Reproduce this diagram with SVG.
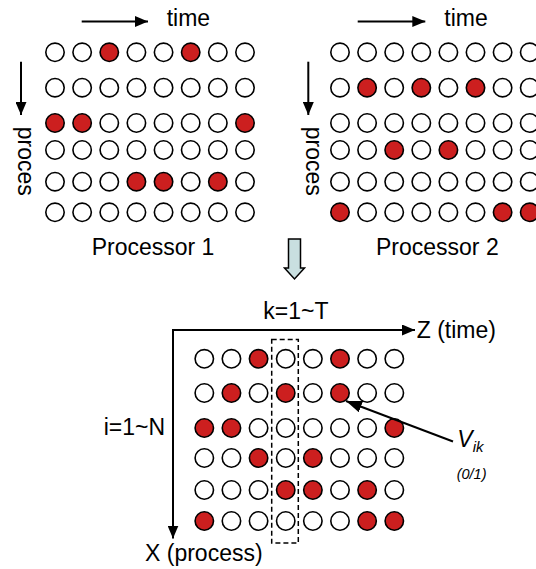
<svg xmlns="http://www.w3.org/2000/svg" width="536" height="569" viewBox="0 0 536 569">
  <style>
    .off { fill: #ffffff; stroke: #000000; stroke-width: 1.6; }
    .on { fill: #cc1f1f; stroke: #000000; stroke-width: 1.6; }
    .lbl { font-family: "Liberation Sans", Arial, sans-serif; font-size: 23px; fill: #000000; }
    .arrow { stroke: #000000; stroke-width: 2; fill: none; marker-end: url(#head); }
    .pointer { stroke: #000000; stroke-width: 2; fill: none; marker-end: url(#bighead); }
  </style>
  <defs>
    <marker id="head" viewBox="0 0 13 11" refX="13" refY="5.5" markerWidth="13" markerHeight="11" markerUnits="userSpaceOnUse" orient="auto">
      <path d="M0,0 L13,5.5 L0,11 z" fill="#000000"/>
    </marker>
    <marker id="bighead" viewBox="0 0 16 12" refX="16" refY="6" markerWidth="16" markerHeight="12" markerUnits="userSpaceOnUse" orient="auto">
      <path d="M0,0 L16,6 L0,12 z" fill="#000000"/>
    </marker>
  </defs>

  <!-- processor 1 schedule -->
  <g id="processor1">
    <g transform="translate(55,52.3)">
      <circle class="off" cx="0" cy="0" r="9.2"/><circle class="off" cx="27.14" cy="0" r="9.2"/><circle class="on" cx="54.28" cy="0" r="9.2"/><circle class="off" cx="81.42" cy="0" r="9.2"/><circle class="off" cx="108.56" cy="0" r="9.2"/><circle class="on" cx="135.7" cy="0" r="9.2"/><circle class="off" cx="162.84" cy="0" r="9.2"/><circle class="off" cx="190" cy="0" r="9.2"/>
    </g>
    <g transform="translate(55,87.7)">
      <circle class="off" cx="0" cy="0" r="9.2"/><circle class="off" cx="27.14" cy="0" r="9.2"/><circle class="off" cx="54.28" cy="0" r="9.2"/><circle class="off" cx="81.42" cy="0" r="9.2"/><circle class="off" cx="108.56" cy="0" r="9.2"/><circle class="off" cx="135.7" cy="0" r="9.2"/><circle class="off" cx="162.84" cy="0" r="9.2"/><circle class="off" cx="190" cy="0" r="9.2"/>
    </g>
    <g transform="translate(55,123)">
      <circle class="on" cx="0" cy="0" r="9.2"/><circle class="on" cx="27.14" cy="0" r="9.2"/><circle class="off" cx="54.28" cy="0" r="9.2"/><circle class="off" cx="81.42" cy="0" r="9.2"/><circle class="off" cx="108.56" cy="0" r="9.2"/><circle class="off" cx="135.7" cy="0" r="9.2"/><circle class="off" cx="162.84" cy="0" r="9.2"/><circle class="on" cx="190" cy="0" r="9.2"/>
    </g>
    <g transform="translate(55,150)">
      <circle class="off" cx="0" cy="0" r="9.2"/><circle class="off" cx="27.14" cy="0" r="9.2"/><circle class="off" cx="54.28" cy="0" r="9.2"/><circle class="off" cx="81.42" cy="0" r="9.2"/><circle class="off" cx="108.56" cy="0" r="9.2"/><circle class="off" cx="135.7" cy="0" r="9.2"/><circle class="off" cx="162.84" cy="0" r="9.2"/><circle class="off" cx="190" cy="0" r="9.2"/>
    </g>
    <g transform="translate(55,181.7)">
      <circle class="off" cx="0" cy="0" r="9.2"/><circle class="off" cx="27.14" cy="0" r="9.2"/><circle class="off" cx="54.28" cy="0" r="9.2"/><circle class="on" cx="81.42" cy="0" r="9.2"/><circle class="on" cx="108.56" cy="0" r="9.2"/><circle class="off" cx="135.7" cy="0" r="9.2"/><circle class="on" cx="162.84" cy="0" r="9.2"/><circle class="off" cx="190" cy="0" r="9.2"/>
    </g>
    <g transform="translate(55,212.3)">
      <circle class="off" cx="0" cy="0" r="9.2"/><circle class="off" cx="27.14" cy="0" r="9.2"/><circle class="off" cx="54.28" cy="0" r="9.2"/><circle class="off" cx="81.42" cy="0" r="9.2"/><circle class="off" cx="108.56" cy="0" r="9.2"/><circle class="off" cx="135.7" cy="0" r="9.2"/><circle class="off" cx="162.84" cy="0" r="9.2"/><circle class="off" cx="190" cy="0" r="9.2"/>
    </g>
    <text class="lbl" x="166.7" y="26">time</text>
    <text class="lbl" transform="translate(18,126.7) rotate(90)">proces</text>
    <text class="lbl" x="91.7" y="254.5">Processor 1</text>
  </g>

  <!-- processor 2 schedule -->
  <g id="processor2">
    <g transform="translate(340,52.3)">
      <circle class="off" cx="0" cy="0" r="9.2"/><circle class="off" cx="27.1" cy="0" r="9.2"/><circle class="off" cx="54.2" cy="0" r="9.2"/><circle class="off" cx="81.3" cy="0" r="9.2"/><circle class="off" cx="108.4" cy="0" r="9.2"/><circle class="off" cx="135.5" cy="0" r="9.2"/><circle class="off" cx="162.6" cy="0" r="9.2"/><circle class="off" cx="189.7" cy="0" r="9.2"/>
    </g>
    <g transform="translate(340,87.7)">
      <circle class="off" cx="0" cy="0" r="9.2"/><circle class="on" cx="27.1" cy="0" r="9.2"/><circle class="off" cx="54.2" cy="0" r="9.2"/><circle class="on" cx="81.3" cy="0" r="9.2"/><circle class="off" cx="108.4" cy="0" r="9.2"/><circle class="on" cx="135.5" cy="0" r="9.2"/><circle class="off" cx="162.6" cy="0" r="9.2"/><circle class="off" cx="189.7" cy="0" r="9.2"/>
    </g>
    <g transform="translate(340,123)">
      <circle class="off" cx="0" cy="0" r="9.2"/><circle class="off" cx="27.1" cy="0" r="9.2"/><circle class="off" cx="54.2" cy="0" r="9.2"/><circle class="off" cx="81.3" cy="0" r="9.2"/><circle class="off" cx="108.4" cy="0" r="9.2"/><circle class="off" cx="135.5" cy="0" r="9.2"/><circle class="off" cx="162.6" cy="0" r="9.2"/><circle class="off" cx="189.7" cy="0" r="9.2"/>
    </g>
    <g transform="translate(340,150)">
      <circle class="off" cx="0" cy="0" r="9.2"/><circle class="off" cx="27.1" cy="0" r="9.2"/><circle class="on" cx="54.2" cy="0" r="9.2"/><circle class="off" cx="81.3" cy="0" r="9.2"/><circle class="on" cx="108.4" cy="0" r="9.2"/><circle class="off" cx="135.5" cy="0" r="9.2"/><circle class="off" cx="162.6" cy="0" r="9.2"/><circle class="off" cx="189.7" cy="0" r="9.2"/>
    </g>
    <g transform="translate(340,181.7)">
      <circle class="off" cx="0" cy="0" r="9.2"/><circle class="off" cx="27.1" cy="0" r="9.2"/><circle class="off" cx="54.2" cy="0" r="9.2"/><circle class="off" cx="81.3" cy="0" r="9.2"/><circle class="off" cx="108.4" cy="0" r="9.2"/><circle class="off" cx="135.5" cy="0" r="9.2"/><circle class="off" cx="162.6" cy="0" r="9.2"/><circle class="off" cx="189.7" cy="0" r="9.2"/>
    </g>
    <g transform="translate(340,212.3)">
      <circle class="on" cx="0" cy="0" r="9.2"/><circle class="off" cx="27.1" cy="0" r="9.2"/><circle class="off" cx="54.2" cy="0" r="9.2"/><circle class="off" cx="81.3" cy="0" r="9.2"/><circle class="off" cx="108.4" cy="0" r="9.2"/><circle class="off" cx="135.5" cy="0" r="9.2"/><circle class="on" cx="162.6" cy="0" r="9.2"/><circle class="on" cx="189.7" cy="0" r="9.2"/>
    </g>
    <text class="lbl" x="444.3" y="26">time</text>
    <text class="lbl" transform="translate(306,126.7) rotate(90)">proces</text>
    <text class="lbl" x="376" y="254.5">Processor 2</text>
  </g>

  <!-- merge step -->
  <g id="merge-arrow">
    <path d="M288.5,239 H300.5 V268 H304.5 L294.5,279 L284.5,268 H288.5 Z" fill="#c9dfe0" stroke="#000000" stroke-width="1.5" stroke-linejoin="miter"/>
  </g>

  <!-- combined schedule V(i,k) -->
  <g id="combined">
    <g transform="translate(204.3,358.8)">
      <circle class="off" cx="0" cy="0" r="9.2"/><circle class="off" cx="27.14" cy="0" r="9.2"/><circle class="on" cx="54.28" cy="0" r="9.2"/><circle class="off" cx="81.42" cy="0" r="9.2"/><circle class="off" cx="108.56" cy="0" r="9.2"/><circle class="on" cx="135.7" cy="0" r="9.2"/><circle class="off" cx="162.84" cy="0" r="9.2"/><circle class="off" cx="190" cy="0" r="9.2"/>
    </g>
    <g transform="translate(204.3,393)">
      <circle class="off" cx="0" cy="0" r="9.2"/><circle class="on" cx="27.14" cy="0" r="9.2"/><circle class="off" cx="54.28" cy="0" r="9.2"/><circle class="on" cx="81.42" cy="0" r="9.2"/><circle class="off" cx="108.56" cy="0" r="9.2"/><circle class="on" cx="135.7" cy="0" r="9.2"/><circle class="off" cx="162.84" cy="0" r="9.2"/><circle class="off" cx="190" cy="0" r="9.2"/>
    </g>
    <g transform="translate(204.3,428)">
      <circle class="on" cx="0" cy="0" r="9.2"/><circle class="on" cx="27.14" cy="0" r="9.2"/><circle class="off" cx="54.28" cy="0" r="9.2"/><circle class="off" cx="81.42" cy="0" r="9.2"/><circle class="off" cx="108.56" cy="0" r="9.2"/><circle class="off" cx="135.7" cy="0" r="9.2"/><circle class="off" cx="162.84" cy="0" r="9.2"/><circle class="on" cx="190" cy="0" r="9.2"/>
    </g>
    <g transform="translate(204.3,458)">
      <circle class="off" cx="0" cy="0" r="9.2"/><circle class="off" cx="27.14" cy="0" r="9.2"/><circle class="on" cx="54.28" cy="0" r="9.2"/><circle class="off" cx="81.42" cy="0" r="9.2"/><circle class="on" cx="108.56" cy="0" r="9.2"/><circle class="off" cx="135.7" cy="0" r="9.2"/><circle class="off" cx="162.84" cy="0" r="9.2"/><circle class="off" cx="190" cy="0" r="9.2"/>
    </g>
    <g transform="translate(204.3,490)">
      <circle class="off" cx="0" cy="0" r="9.2"/><circle class="off" cx="27.14" cy="0" r="9.2"/><circle class="off" cx="54.28" cy="0" r="9.2"/><circle class="on" cx="81.42" cy="0" r="9.2"/><circle class="on" cx="108.56" cy="0" r="9.2"/><circle class="off" cx="135.7" cy="0" r="9.2"/><circle class="on" cx="162.84" cy="0" r="9.2"/><circle class="off" cx="190" cy="0" r="9.2"/>
    </g>
    <g transform="translate(204.3,521)">
      <circle class="on" cx="0" cy="0" r="9.2"/><circle class="off" cx="27.14" cy="0" r="9.2"/><circle class="off" cx="54.28" cy="0" r="9.2"/><circle class="off" cx="81.42" cy="0" r="9.2"/><circle class="off" cx="108.56" cy="0" r="9.2"/><circle class="off" cx="135.7" cy="0" r="9.2"/><circle class="on" cx="162.84" cy="0" r="9.2"/><circle class="on" cx="190" cy="0" r="9.2"/>
    </g>
    <!-- one time slot column -->
    <rect x="271.7" y="339.5" width="26.6" height="203.5" fill="none" stroke="#000000" stroke-width="1.5" stroke-dasharray="5 3"/>
    <text class="lbl" x="263.3" y="319">k=1~T</text>
    <text class="lbl" x="416.7" y="338">Z (time)</text>
    <text class="lbl" x="165" y="435" text-anchor="end">i=1~N</text>
    <text class="lbl" x="145" y="561">X (process)</text>
  </g>

  <g id="vik-label">
    <text class="lbl" x="457.3" y="446.5" font-style="italic">V<tspan font-size="15" dy="5">ik</tspan></text>
    <text class="lbl" x="456.7" y="478.5" font-style="italic" style="font-size:14.5px">(0/1)</text>
  </g>

  <!-- connectors -->
  <g id="connectors">
    <line class="arrow" x1="81.7" y1="21.5" x2="148" y2="21.5"/>
    <line class="arrow" x1="357.7" y1="21.5" x2="425.3" y2="21.5"/>
    <line class="arrow" x1="21" y1="61.7" x2="21" y2="115"/>
    <line class="arrow" x1="308.3" y1="61.7" x2="308.3" y2="115"/>
    <line class="arrow" x1="172" y1="330" x2="415" y2="330"/>
    <line class="arrow" x1="173" y1="329" x2="173" y2="538.5"/>
    <line class="pointer" x1="453" y1="441.5" x2="346" y2="401"/>
  </g>
</svg>
